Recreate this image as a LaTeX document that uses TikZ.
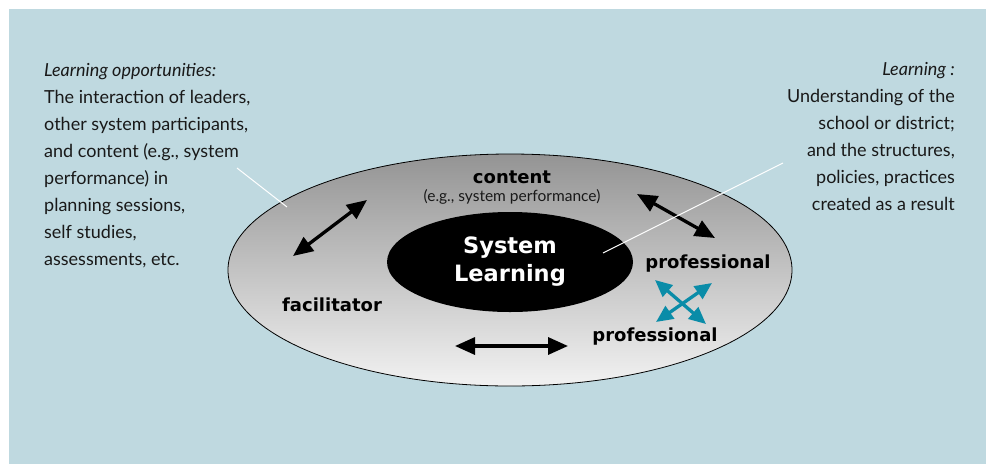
\documentclass[tikz,border=0pt]{standalone}
\usepackage{fontspec}
\setmainfont{Lato}
\newfontfamily\labelfont{DejaVu Sans}
\usetikzlibrary{arrows.meta,shapes.geometric}
\definecolor{panel}{RGB}{191,217,224}
\definecolor{ringtop}{RGB}{148,148,148}
\definecolor{ringbot}{RGB}{242,242,242}
\definecolor{arrowteal}{RGB}{10,140,168}
\definecolor{bodytext}{RGB}{25,25,25}
\tikzset{
  bodyblock/.style={inner sep=0pt, text=bodytext, font=\fontsize{18}{26.86}\selectfont},
  rolelabel/.style={inner sep=0pt, font=\labelfont\bfseries\fontsize{18}{21}\selectfont},
  dblarrow/.style={line width=3.3pt, {Triangle[length=20pt,width=17pt]}-{Triangle[length=20pt,width=17pt]}},
  tealarrow/.style={line width=3.3pt, arrowteal, {Triangle[length=17pt,width=15pt]}-{Triangle[length=17pt,width=15pt]}},
  pointer/.style={white, line width=1pt}
}
\begin{document}
\begin{tikzpicture}[x=1pt,y=-1pt]
\useasboundingbox (0,0) rectangle (986,464);
\fill[panel] (9,9) rectangle (986,464);
% outer ring
\node[ellipse, draw=black, line width=0.8pt, top color=ringtop, bottom color=ringbot,
      minimum width=564pt, minimum height=232pt] (ring) at (510,270) {};
% core
\node[ellipse, fill=black, text=white, align=center, minimum width=246pt, minimum height=100pt,
      font=\labelfont\bfseries\fontsize{22.5}{28}\selectfont] (core) at (510,262) {System\\Learning};
% labels
\node[rolelabel] (content) at (512,177) {content};
\node[inner sep=0pt, text=bodytext, font=\fontsize{15.5}{18}\selectfont] (eg) at (512,197) {(e.g., system performance)};
\node[rolelabel] (facil) at (332,305) {facilitator};
\node[rolelabel] (prof1) at (708,264) {professional};
\node[rolelabel] (prof2) at (655,337) {professional};
% text blocks
\node[bodyblock, align=left, anchor=base west] (opps) at (44,265)
  {\textit{Learning opportunities:}\\The interaction of leaders,\\other system participants,\\and content (e.g., system\\performance) in\\planning sessions,\\self studies,\\assessments, etc.};
\node[bodyblock, align=right, anchor=base east] (learn) at (955,210)
  {\textit{Learning :}\\Understanding of the\\school or district;\\and the structures,\\policies, practices\\created as a result};
% arrow end points
\coordinate (a1s) at (293,256); \coordinate (a1e) at (367,200);
\coordinate (a2s) at (637,194); \coordinate (a2e) at (715,238);
\coordinate (a3s) at (455,346); \coordinate (a3e) at (568,346);
\coordinate (t1s) at (655,280); \coordinate (t1e) at (706,324);
\coordinate (t2s) at (712,283); \coordinate (t2e) at (656,322);
\coordinate (p1s) at (237,168); \coordinate (p1e) at (287,207);
\coordinate (p2s) at (783,163); \coordinate (p2e) at (603,253);
\draw[dblarrow] (a1s) -- (a1e);
\draw[dblarrow] (a2s) -- (a2e);
\draw[dblarrow] (a3s) -- (a3e);
\draw[tealarrow] (t1s) -- (t1e);
\draw[tealarrow] (t2s) -- (t2e);
\draw[pointer] (p1s) -- (p1e);
\draw[pointer] (p2s) -- (p2e);
\end{tikzpicture}
\end{document}
